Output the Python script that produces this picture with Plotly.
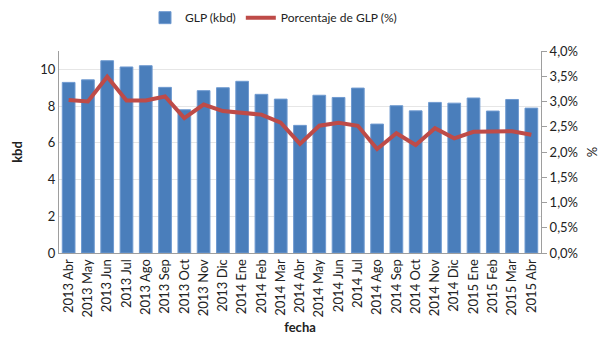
import plotly.graph_objects as go

categories = ["2013 Abr", "2013 May", "2013 Jun", "2013 Jul", "2013 Ago", "2013 Sep",
              "2013 Oct", "2013 Nov", "2013 Dic", "2014 Ene", "2014 Feb", "2014 Mar",
              "2014 Abr", "2014 May", "2014 Jun", "2014 Jul", "2014 Ago", "2014 Sep",
              "2014 Oct", "2014 Nov", "2014 Dic", "2015 Ene", "2015 Feb", "2015 Mar",
              "2015 Abr"]
glp_kbd = [9.29, 9.43, 10.47, 10.13, 10.2, 9.02, 7.80, 8.84, 9.0, 9.35, 8.64, 8.38,
           6.95, 8.59, 8.47, 8.98, 7.02, 8.02, 7.74, 8.20, 8.16, 8.44, 7.73, 8.36, 7.89]
glp_pct = [3.03, 3.00, 3.49, 3.02, 3.02, 3.10, 2.67, 2.94, 2.81, 2.78, 2.74, 2.58,
           2.16, 2.52, 2.58, 2.52, 2.06, 2.37, 2.14, 2.47, 2.27, 2.40, 2.40, 2.41, 2.34]

pct_frac = [v / 100 for v in glp_pct]

FONT = "Lato, 'Open Sans', sans-serif"

fig = go.Figure()
fig.add_trace(go.Bar(
    x=categories, y=glp_kbd, name="GLP (kbd)",
    marker=dict(color="#4A7EBB", line=dict(color="#6F9AD0", width=1)),
    yaxis="y",
))
fig.add_trace(go.Scatter(
    x=categories, y=pct_frac, name="Porcentaje de GLP (%)",
    mode="lines", line=dict(color="#BE4B48", width=4),
    yaxis="y2",
))

fig.update_layout(
    width=613, height=348,
    margin=dict(l=59, r=72, t=51, b=95, autoexpand=False),
    paper_bgcolor="white", plot_bgcolor="white",
    separators=",.",
    bargap=0.34,
    font=dict(family=FONT, size=13, color="#222222"),
    showlegend=True,
    legend=dict(orientation="h", x=0.445, xanchor="center", y=1.165, yanchor="middle",
                font=dict(size=12), traceorder="normal"),
    xaxis=dict(
        type="category", tickangle=-90, showgrid=False, automargin=False,
        showline=True, linecolor="#9E9E9E", linewidth=1,
        ticks="", tickfont=dict(size=13),
        title=dict(text="<b>fecha</b>", font=dict(size=13), standoff=6),
    ),
    yaxis=dict(
        range=[0, 11], dtick=2, showgrid=True, gridcolor="#E6E6E6", gridwidth=1,
        showline=True, linecolor="#9E9E9E", linewidth=1, zeroline=False, automargin=False,
        ticks="", tickfont=dict(size=13),
        title=dict(text="<b>kbd</b>", font=dict(size=13), standoff=14),
    ),
    yaxis2=dict(
        range=[0, 0.04], dtick=0.005, tickformat=".1%", overlaying="y", side="right",
        showgrid=False, showline=True, linecolor="#9E9E9E", linewidth=1, zeroline=False,
        automargin=False,
        ticks="outside", ticklen=5, tickcolor="#9E9E9E", tickfont=dict(size=13),
        title=dict(text="%", font=dict(size=13), standoff=10),
    ),
)

fig.write_html("out.html")
